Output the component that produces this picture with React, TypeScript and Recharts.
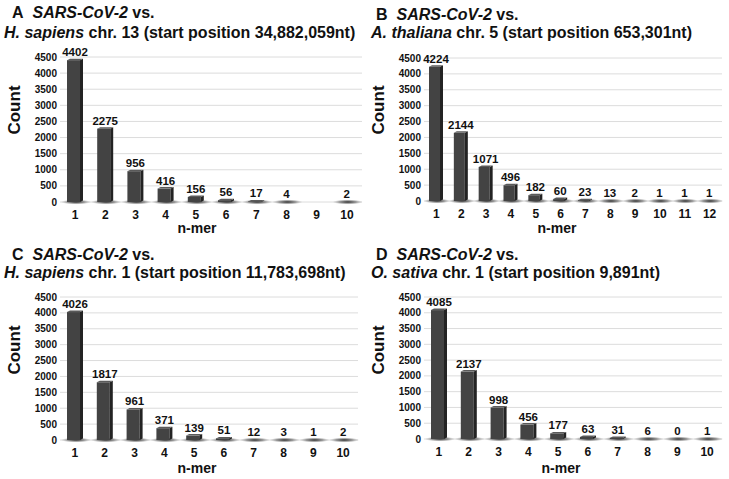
import React from "react";
import { BarChart, Bar, XAxis, YAxis, CartesianGrid, LabelList } from "recharts";

// n-mer match counts for each genome comparison
const nmerTen = ["1", "2", "3", "4", "5", "6", "7", "8", "9", "10"];
const nmerTwelve = ["1", "2", "3", "4", "5", "6", "7", "8", "9", "10", "11", "12"];

const countsHsChr13 = [4402, 2275, 956, 416, 156, 56, 17, 4, null, 2];
const countsAtChr5 = [4224, 2144, 1071, 496, 182, 60, 23, 13, 2, 1, 1, 1];
const countsHsChr1 = [4026, 1817, 961, 371, 139, 51, 12, 3, 1, 2];
const countsOsChr1 = [4085, 2137, 998, 456, 177, 63, 31, 6, 0, 1];

const yTicks = [0, 500, 1000, 1500, 2000, 2500, 3000, 3500, 4000, 4500];

const FONT = "Liberation Sans, Arial, sans-serif";

function toRows(labels: string[], counts: (number | null)[]) {
  return labels.map((n, i) => ({ n, count: counts[i] }));
}

// pseudo-3D column: front face, darker right side, lit top and a floor shadow
function Column(props: any) {
  const { x, y, width, height, value } = props;
  if (value === null || value === undefined) return null;
  const side = 3;
  const front = width - side;
  const base = y + height;
  return (
    <g>
      <ellipse cx={x + width / 2 + 1} cy={base} rx={width * 0.95} ry={2.6} fill="url(#floorShadow)" />
      {height > 0.5 && (
        <>
          <rect x={x} y={y} width={front} height={height} fill="#434343" />
          <polygon
            points={`${x + front},${y} ${x + width},${y - 1.5} ${x + width},${base - 1.5} ${x + front},${base}`}
            fill="#232323"
          />
          <polygon
            points={`${x},${y} ${x + side},${y - 1.5} ${x + width},${y - 1.5} ${x + front},${y}`}
            fill="#5a5a5a"
          />
        </>
      )}
    </g>
  );
}

interface PanelProps {
  left: number;
  top: number;
  letter: string;
  species: string;
  rest: string;
  line1Top: number;
  line1Left: number;
  line2Left: number;
  data: { n: string; count: number | null }[];
  margin: { top: number; right: number; left: number; bottom: number };
  barSize: number;
  countY: number;
  nmerX: number;
  nmerY: number;
}

function Panel(p: PanelProps) {
  const titleStyle: React.CSSProperties = {
    position: "absolute",
    fontSize: 16,
    lineHeight: "18px",
    fontWeight: 700,
    whiteSpace: "nowrap",
  };
  return (
    <div style={{ position: "absolute", left: p.left, top: p.top, width: 364, height: 240, fontFamily: FONT, color: "#111" }}>
      <div style={{ ...titleStyle, left: p.line1Left, top: p.line1Top }}>
        {p.letter}&nbsp; <i>SARS-CoV-2</i> vs.
      </div>
      <div style={{ ...titleStyle, left: p.line2Left, top: 24 }}>
        <i>{p.species}</i> {p.rest}
      </div>
      <div
        style={{
          position: "absolute",
          left: 15,
          top: p.countY,
          transform: "translate(-50%, -50%) rotate(-90deg)",
          fontSize: 17,
          fontWeight: 700,
          whiteSpace: "nowrap",
        }}
      >
        Count
      </div>
      <div
        style={{
          position: "absolute",
          left: p.nmerX,
          top: p.nmerY,
          transform: "translate(-50%, -50%)",
          fontSize: 14,
          fontWeight: 700,
          whiteSpace: "nowrap",
        }}
      >
        n-mer
      </div>
      <BarChart width={364} height={240} data={p.data} margin={p.margin} barSize={p.barSize}>
        <defs>
          <radialGradient id="floorShadow">
            <stop offset="0%" stopColor="#1a1a1a" stopOpacity={0.9} />
            <stop offset="55%" stopColor="#444" stopOpacity={0.5} />
            <stop offset="100%" stopColor="#888" stopOpacity={0} />
          </radialGradient>
        </defs>
        <CartesianGrid vertical={false} stroke="#dcdcdc" strokeWidth={1} />
        <XAxis
          dataKey="n"
          axisLine={false}
          tickLine={false}
          tickSize={0}
          tickMargin={8}
          height={30}
          interval={0}
          tick={{ fontSize: 12, fontWeight: 700, fill: "#111", fontFamily: FONT }}
        />
        <YAxis
          domain={[0, 4500]}
          ticks={yTicks}
          interval={0}
          axisLine={false}
          tickLine={false}
          tickSize={0}
          tickMargin={3}
          width={50}
          tick={{ fontSize: 10, fontWeight: 700, fill: "#111", fontFamily: FONT }}
        />
        <Bar dataKey="count" shape={Column} isAnimationActive={false}>
          <LabelList
            dataKey="count"
            position="top"
            offset={4}
            style={{ fontSize: 11.5, fontWeight: 700, fill: "#111", fontFamily: FONT }}
          />
        </Bar>
      </BarChart>
    </div>
  );
}

export default function App() {
  return (
    <div style={{ position: "absolute", left: 0, top: 0, width: 729, height: 479, background: "#fff", overflow: "hidden" }}>
      <Panel
        left={0}
        top={0}
        letter="A"
        species="H. sapiens"
        rest="chr. 13 (start position 34,882,059nt)"
        line1Top={4}
        line1Left={12}
        line2Left={4}
        data={toRows(nmerTen, countsHsChr13)}
        margin={{ top: 57, right: 2, left: 10, bottom: 8 }}
        barSize={16}
        countY={110}
        nmerX={197}
        nmerY={228}
      />
      <Panel
        left={364}
        top={0}
        letter="B"
        species="A. thaliana"
        rest="chr. 5 (start position 653,301nt)"
        line1Top={6}
        line1Left={12}
        line2Left={7}
        data={toRows(nmerTwelve, countsAtChr5)}
        margin={{ top: 58, right: 6, left: 10, bottom: 9 }}
        barSize={14}
        countY={110}
        nmerX={193}
        nmerY={228}
      />
      <Panel
        left={0}
        top={240}
        letter="C"
        species="H. sapiens"
        rest="chr. 1 (start position 11,783,698nt)"
        line1Top={6}
        line1Left={12}
        line2Left={4}
        data={toRows(nmerTen, countsHsChr1)}
        margin={{ top: 57, right: 6, left: 10, bottom: 10 }}
        barSize={16}
        countY={110}
        nmerX={197}
        nmerY={228}
      />
      <Panel
        left={364}
        top={240}
        letter="D"
        species="O. sativa"
        rest="chr. 1 (start position 9,891nt)"
        line1Top={6}
        line1Left={12}
        line2Left={7}
        data={toRows(nmerTen, countsOsChr1)}
        margin={{ top: 57, right: 6, left: 10, bottom: 11 }}
        barSize={16}
        countY={110}
        nmerX={197}
        nmerY={228}
      />
    </div>
  );
}
